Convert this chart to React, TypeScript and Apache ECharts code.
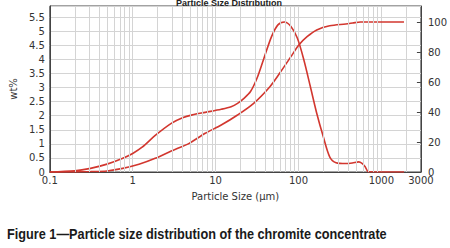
import React, { useEffect, useRef } from "react";
import * as echarts from "echarts";

// Frequency distribution (wt%, left axis)
const freqSize = [0.1, 0.2, 0.31, 0.49, 0.76, 1.0, 1.3, 1.87, 2.92, 4.0, 5.24, 7.5, 11.7, 15.4, 18.4, 22, 26.4, 31.6, 37.8, 47.3, 56.5, 67.6, 81.1, 96.8, 116, 139, 166, 199, 238, 284, 372, 446, 534, 584, 638, 698, 1875];
const freqWt = [0, 0.04, 0.13, 0.28, 0.49, 0.66, 0.88, 1.3, 1.73, 1.93, 2.03, 2.12, 2.23, 2.32, 2.44, 2.62, 2.86, 3.33, 3.99, 4.81, 5.23, 5.33, 5.17, 4.76, 3.99, 3.04, 2.09, 1.26, 0.54, 0.33, 0.3, 0.32, 0.36, 0.31, 0.19, 0.01, 0];

// Cumulative distribution (%, right axis)
const cumSize = [0.1, 0.2, 0.31, 0.49, 0.76, 1.19, 1.87, 2.92, 3.5, 4.8, 7.5, 11.7, 18.4, 28.8, 45.2, 59.2, 81.1, 101, 127, 166, 238, 372, 450, 560, 1875];
const cumPct = [0, 0.1, 0.3, 0.7, 2.4, 5.1, 9.1, 14, 15.8, 19.1, 25.8, 31.3, 38, 45.8, 56.9, 65.8, 76.9, 84.7, 90.2, 94.7, 97.5, 98.7, 99.3, 100, 100];

// Minor vertical grid lines (2..9 per decade)
const minorGrid = [
  0.2, 0.3, 0.4, 0.5, 0.6, 0.7, 0.8, 0.9,
  2, 3, 4, 5, 6, 7, 8, 9,
  20, 30, 40, 50, 60, 70, 80, 90,
  200, 300, 400, 500, 600, 700, 800, 900,
  2000,
];

const titleText = "Particle Size Distribution";
const captionText = "Figure 1\u2014Particle size distribution of the chromite concentrate";
const xName = "Particle Size (\u00b5m)";
const yName = "wt%";

const RED = "#d2372f";
const LABEL = "#333";
const FONT = "DejaVu Sans";

export default function App() {
  const ref = useRef<HTMLDivElement>(null);
  useEffect(() => {
    if (!ref.current) return;
    const chart = echarts.init(ref.current, null, { renderer: "svg" });

    const capFont = 'bold 14px "Liberation Sans"';
    let capScale = 0.91;
    try {
      const c = document.createElement("canvas").getContext("2d");
      if (c) {
        c.font = capFont;
        const w = c.measureText(captionText).width;
        if (w > 0) capScale = 380 / w;
      }
    } catch (e) {}

    chart.setOption({
      animation: false,
      backgroundColor: "#fff",
      grid: {
        left: 38,
        top: 6,
        width: 383,
        height: 166,
        show: true,
        borderColor: "#444",
        borderWidth: 1,
        backgroundColor: "transparent",
      },
      xAxis: {
        type: "log",
        logBase: 10,
        min: 0.1,
        max: 3000,
        name: xName,
        nameLocation: "middle",
        nameGap: 19,
        nameTextStyle: { fontFamily: FONT, fontSize: 10, color: LABEL },
        axisLine: { show: true, lineStyle: { color: "#444" } },
        axisTick: { show: false },
        axisLabel: {
          fontFamily: FONT,
          fontSize: 10,
          color: LABEL,
          margin: 3,
          formatter: (v: number) =>
            v < 1 ? String(Math.round(v * 10) / 10) : String(Math.round(v)),
        },
        splitLine: { show: true, lineStyle: { color: "#d4d4d4", width: 1 } },
      },
      yAxis: [
        {
          type: "value",
          min: 0,
          max: 5.9,
          interval: 0.5,
          name: yName,
          nameLocation: "middle",
          nameGap: 27,
          nameTextStyle: { fontFamily: FONT, fontSize: 10, color: LABEL },
          axisLine: { show: true, lineStyle: { color: "#444" } },
          axisTick: { show: false },
          axisLabel: {
            fontFamily: FONT,
            fontSize: 10,
            color: LABEL,
            margin: 5,
            showMaxLabel: false,
          },
          splitLine: { show: true, lineStyle: { color: "#d4d4d4", width: 1 } },
        },
        {
          type: "value",
          position: "right",
          min: 0,
          max: 110.67,
          interval: 20,
          axisLine: { show: true, lineStyle: { color: "#444" } },
          axisTick: { show: true, inside: true, length: 4, lineStyle: { color: "#444" } },
          axisLabel: {
            fontFamily: FONT,
            fontSize: 10,
            color: LABEL,
            margin: 7,
            showMaxLabel: false,
          },
          splitLine: { show: false },
        },
      ],
      series: [
        {
          type: "line",
          z: 1,
          data: [[0.1, 0]],
          showSymbol: false,
          symbol: "none",
          lineStyle: { opacity: 0 },
          silent: true,
          markLine: {
            silent: true,
            symbol: ["none", "none"],
            label: { show: false },
            emphasis: { disabled: true },
            lineStyle: { color: "#d4d4d4", width: 1, type: "solid" },
            data: minorGrid.map((v) => ({ xAxis: v })),
          },
        },
        {
          type: "line",
          z: 3,
          yAxisIndex: 0,
          data: freqSize.map((s, i) => [s, freqWt[i]]),
          showSymbol: false,
          symbol: "none",
          smooth: 0.3,
          lineStyle: { color: RED, width: 1.6 },
        },
        {
          type: "line",
          z: 3,
          yAxisIndex: 1,
          data: cumSize.map((s, i) => [s, cumPct[i]]),
          showSymbol: false,
          symbol: "none",
          smooth: 0.3,
          lineStyle: { color: RED, width: 1.6 },
        },
      ],
      graphic: [
        {
          type: "text",
          x: 229,
          y: 7.5,
          style: {
            text: titleText,
            font: 'bold 9px "Liberation Sans"',
            fill: "#222",
            align: "center",
            verticalAlign: "bottom",
          },
        },
        {
          type: "text",
          x: 7,
          y: 234.4,
          scaleX: capScale,
          style: {
            text: captionText,
            font: capFont,
            fill: "#1a1a1a",
            align: "left",
            verticalAlign: "middle",
          },
        },
      ],
    });
    return () => chart.dispose();
  }, []);
  return (
    <div
      ref={ref}
      style={{ position: "fixed", left: 0, top: 0, width: 450, height: 248 }}
    />
  );
}
